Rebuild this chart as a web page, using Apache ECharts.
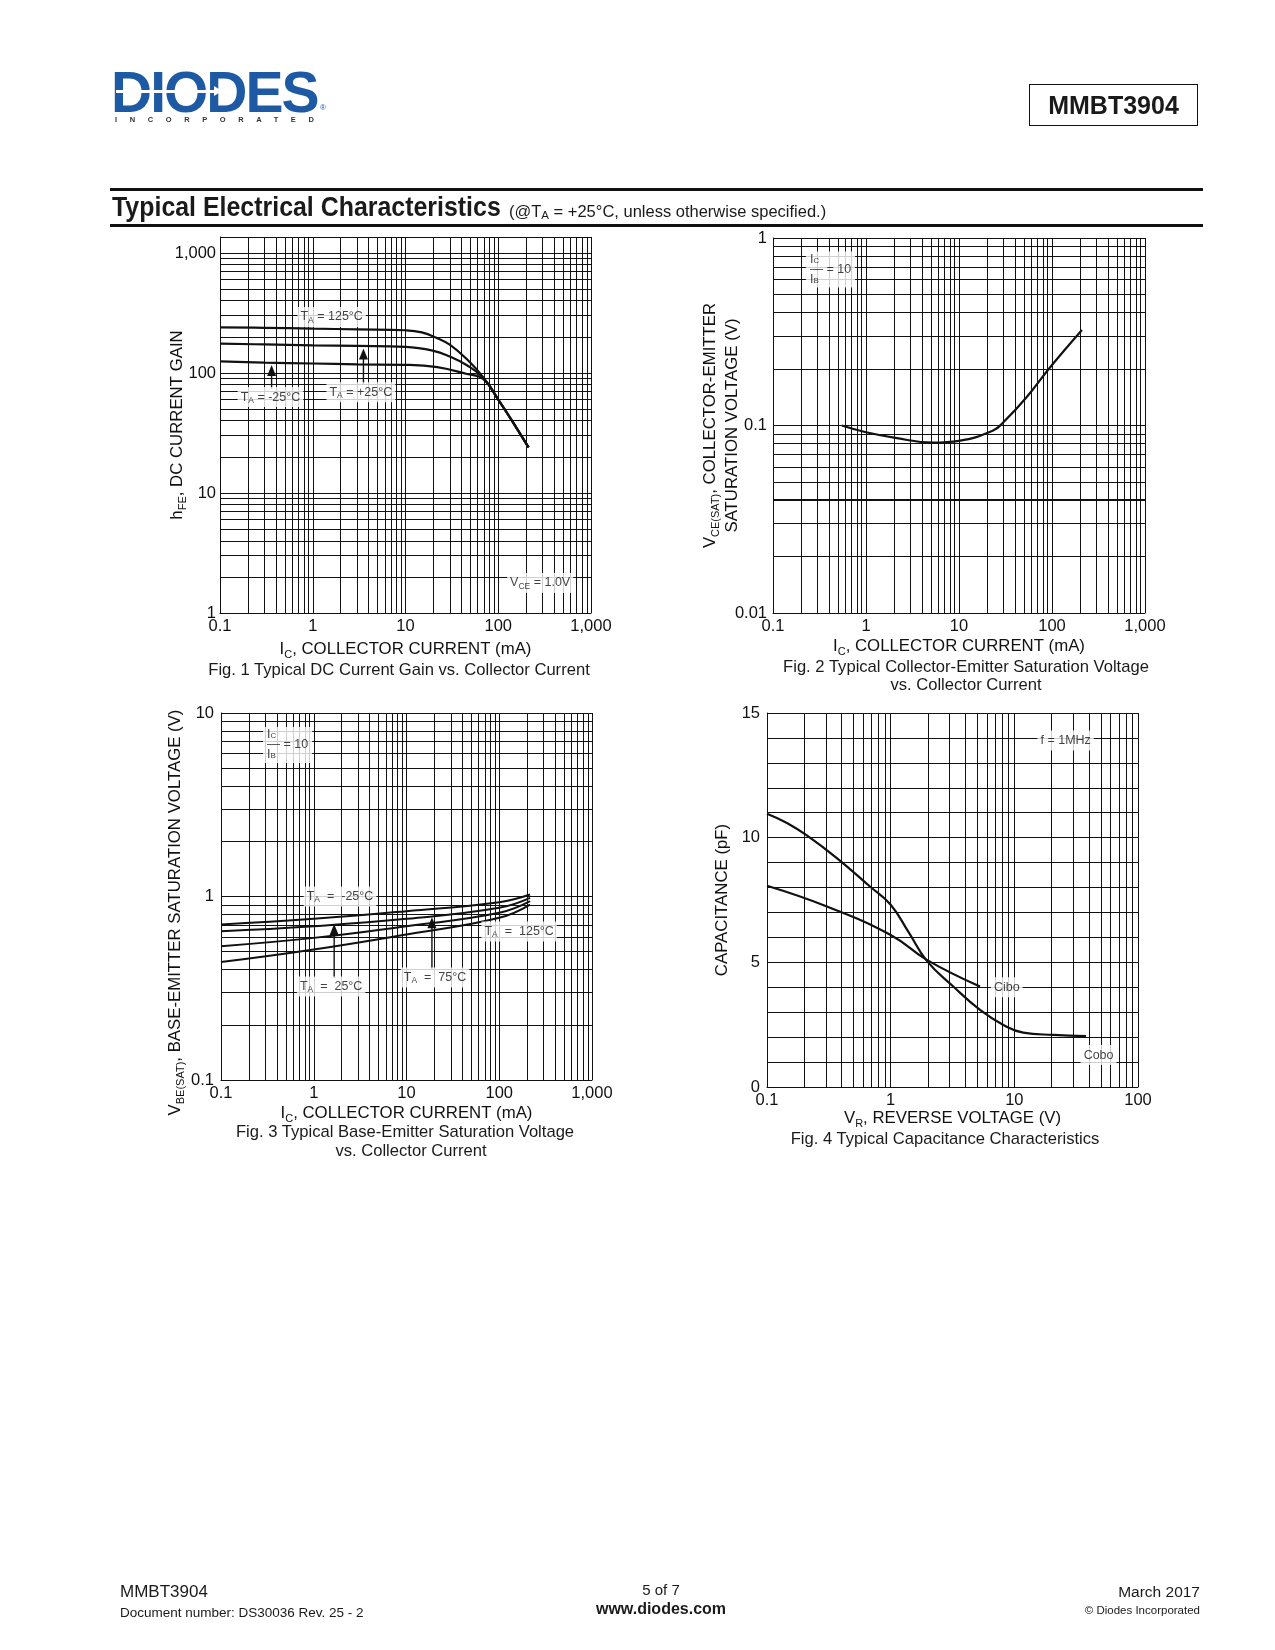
<!DOCTYPE html>
<html lang="en"><head><meta charset="utf-8"><title>MMBT3904 Typical Electrical Characteristics</title>
<script src="https://cdn.jsdelivr.net/npm/echarts@6.0.0/dist/echarts.min.js"></script>
<style>
html,body{margin:0;padding:0;background:#fff;}
#page{position:relative;width:1275px;height:1650px;overflow:hidden;font-family:'Liberation Sans',Arial,Helvetica,sans-serif;color:#1a1a1a;}
#chart{position:absolute;left:0;top:0;width:1275px;height:1650px;}
.t{position:absolute;white-space:nowrap;line-height:1;z-index:2;}
.c{transform:translate(-50%,-50%);}
.l{transform:translateY(-50%);}
.r{transform:translate(-100%,-50%);}
</style></head>
<body><div id="page">
<div id="chart"></div>

<!-- header -->
<div class="t" style="left:111px;top:64px;font:bold 57px/57px 'Liberation Sans',Arial,sans-serif;color:#1d5aa3;letter-spacing:-2px;">DIODES</div>
<div class="t" style="left:116px;top:90px;width:100px;height:3px;background:#fff;"></div>
<div class="t" style="left:214px;top:86px;width:0;height:0;border-top:5.5px solid transparent;border-bottom:5.5px solid transparent;border-left:8px solid #fff;"></div>
<div class="t" style="left:115px;top:116px;font:bold 7.5px/8px 'Liberation Sans',Arial,sans-serif;color:#333;letter-spacing:12.6px;">INCORPORATED</div>
<div class="t" style="left:320px;top:104px;font:8px/8px 'Liberation Sans',Arial,sans-serif;color:#1d5aa3;">®</div>
<div class="t" style="left:1029px;top:84px;width:169px;height:42px;box-sizing:border-box;border:1.3px solid #111;text-align:center;font:bold 25px/40px 'Liberation Sans',Arial,sans-serif;">MMBT3904</div>

<div class="t" style="left:110px;top:187.5px;width:1093px;height:3.5px;background:#111;"></div>
<div class="t" style="left:112px;top:193px;font:bold 28px/28px 'Liberation Sans',Arial,sans-serif;transform:scaleX(0.89);transform-origin:left center;">Typical Electrical Characteristics</div>
<div class="t" style="left:509px;top:203px;font:16.5px/16px 'Liberation Sans',Arial,sans-serif;">(@T<span style="font-size:11.5px;position:relative;top:2px;">A</span> = +25°C, unless otherwise specified.)</div>
<div class="t" style="left:110px;top:224px;width:1093px;height:2.5px;background:#111;"></div>

<!-- captions -->
<div class="t c" style="left:399px;top:670px;font-size:16.6px;">Fig. 1 Typical DC Current Gain vs. Collector Current</div>
<div class="t c" style="left:966px;top:667px;font-size:16.6px;">Fig. 2 Typical Collector-Emitter Saturation Voltage</div>
<div class="t c" style="left:966px;top:685px;font-size:16.6px;">vs. Collector Current</div>
<div class="t c" style="left:405px;top:1132px;font-size:16.6px;">Fig. 3 Typical Base-Emitter Saturation Voltage</div>
<div class="t c" style="left:411px;top:1151px;font-size:16.6px;">vs. Collector Current</div>
<div class="t c" style="left:945px;top:1139px;font-size:16.6px;">Fig. 4 Typical Capacitance Characteristics</div>

<!-- footer -->
<div class="t l" style="left:120px;top:1591px;font-size:17px;">MMBT3904</div>
<div class="t l" style="left:120px;top:1613px;font-size:13.5px;">Document number: DS30036 Rev. 25 - 2</div>
<div class="t c" style="left:661px;top:1589px;font-size:15px;">5 of 7</div>
<div class="t c" style="left:661px;top:1609px;font-size:16px;font-weight:bold;">www.diodes.com</div>
<div class="t r" style="left:1200px;top:1592px;font-size:15.5px;">March 2017</div>
<div class="t r" style="left:1200px;top:1611px;font-size:11.5px;">© Diodes Incorporated</div>
</div>

<script>
// ---------------- data ----------------
// Fig. 1  hFE vs IC (mA)
const fig1Current125 = [0.1, 0.3, 1, 3, 10, 15, 22, 30, 46, 69, 100, 150, 212];
const fig1Gain125    = [240, 238, 234, 231, 227, 218, 195, 172, 130, 92, 60, 37, 24];
const fig1Current25  = [0.1, 0.3, 1, 3, 10, 20, 30, 46, 69, 100, 150, 212];
const fig1Gain25     = [176, 173, 170, 168, 165, 153, 137, 116, 91, 60, 37, 24];
const fig1CurrentM25 = [0.1, 0.3, 1, 3, 10, 22, 46, 69, 100, 150, 212];
const fig1GainM25    = [125, 122, 120, 118, 117, 112, 98, 89, 60, 37, 24];

// Fig. 2  VCE(SAT) vs IC (mA)
const fig2Current = [0.55, 1, 2, 5.3, 10, 23, 30, 53, 96, 210];
const fig2Vce     = [0.1, 0.092, 0.0862, 0.081, 0.0828, 0.0937, 0.104, 0.141, 0.205, 0.323];

// Fig. 3  VBE(SAT) vs IC (mA)
const fig3Current = [0.1, 1, 10, 100, 215];
const fig3VbeM25  = [0.704, 0.756, 0.832, 0.931, 1.025];
const fig3Vbe25   = [0.647, 0.689, 0.756, 0.868, 0.983];
const fig3Vbe75   = [0.536, 0.595, 0.689, 0.815, 0.943];
const fig3Vbe125  = [0.439, 0.514, 0.621, 0.766, 0.904];

// Fig. 4  capacitance (pF) vs VR (V)
const fig4VoltCobo = [0.1, 0.145, 0.21, 0.367, 0.68, 1, 1.4, 1.96, 3.21, 5.28, 8.15, 11.8, 20.7, 38];
const fig4Cobo     = [10.96, 10.59, 10.09, 9.18, 8.04, 7.31, 6.2, 5.06, 4.03, 3.09, 2.49, 2.18, 2.09, 2.04];
const fig4VoltCibo = [0.1, 0.305, 1, 1.96, 5.28];
const fig4Cibo     = [8.07, 7.24, 6.1, 5.1, 4.03];

// annotation anchors (data coordinates)
const fig1Notes = [
  {x: 1.6, y: 293, text: '{t|T}{ts|A}{t| = 125°C}'},
  {x: 0.35, y: 63, text: '{t|T}{ts|A}{t| = -25°C}'},
  {x: 3.3, y: 69, text: '{t|T}{ts|A}{t| = +25°C}'},
  {x: 283, y: 1.78, text: '{t|V}{ts|CE}{t| = 1.0V}'}
];
const fig1Arrows = [{x: 0.36, from: 73.5, to: 105}, {x: 3.52, from: 80.5, to: 144}];
const fig2Fraction = {x: 0.226, y: 0.68};
const fig3Fraction = {x: 0.284, y: 6.7};
const fig3Notes = [
  {x: 1.92, y: 1.0, text: '{t|T}{ts|A}{t|  =  -25°C}'},
  {x: 164, y: 0.645, text: '{t|T}{ts|A}{t|  =  125°C}'},
  {x: 1.54, y: 0.323, text: '{t|T}{ts|A}{t|  =  25°C}'},
  {x: 20.3, y: 0.362, text: '{t|T}{ts|A}{t|  =  75°C}'}
];
const fig3Arrows = [{x: 1.66, from: 0.36, to: 0.66}, {x: 18.8, from: 0.40, to: 0.72}];
const fig4Notes = [
  {x: 26, y: 13.9, text: '{t|f = 1MHz}'},
  {x: 8.7, y: 4.0, text: '{t|Cibo}'},
  {x: 48, y: 1.28, text: '{t|Cobo}'}
];

// ---------------- helpers ----------------
const FONT = "'Liberation Sans', Arial, Helvetica, sans-serif";
const INK = '#111';
const FIG1_YMAX = 1359; // frame top of Fig. 1 (the 1,000 line sits just below it)

function decadeLines(lo, hi) {
  const out = [];
  for (let d = lo; d < hi * 0.999; d *= 10) {
    for (let m = 1; m <= 9; m++) out.push(+(m * d).toPrecision(6));
  }
  out.push(hi);
  return out;
}
function range(a, b, s) { const o = []; for (let v = a; v <= b + 1e-9; v += s) o.push(v); return o; }
function fmt(v) {
  const n = +(+v).toPrecision(4);
  return n >= 1000 ? '1,000' : String(n);
}
const RICH = {
  n:  {fontSize: 16.8, fontFamily: FONT, color: INK, lineHeight: 22, verticalAlign: 'middle'},
  s:  {fontSize: 11, fontFamily: FONT, color: INK, lineHeight: 12, verticalAlign: 'bottom'},
  t:  {fontSize: 12.5, fontFamily: FONT, color: INK, lineHeight: 16, verticalAlign: 'middle'},
  ts: {fontSize: 8.5, fontFamily: FONT, color: INK, lineHeight: 9, verticalAlign: 'bottom'},
  f:  {fontSize: 12.5, fontFamily: FONT, color: INK, lineHeight: 10, verticalAlign: 'middle'},
  fs: {fontSize: 8, fontFamily: FONT, color: INK, lineHeight: 6, verticalAlign: 'bottom'},
  bar:{fontSize: 13, fontFamily: FONT, color: INK, lineHeight: 10, verticalAlign: 'middle'}
};

function xLog(gi, min, max, name, gap) {
  return {type: 'log', logBase: 10, gridIndex: gi, min, max,
    name, nameLocation: 'middle', nameGap: gap, nameMoveOverlap: false,
    nameTextStyle: {rich: RICH},
    axisLine: {show: true, onZero: false, lineStyle: {color: INK, width: 1}},
    axisTick: {show: false}, splitLine: {show: false},
    axisLabel: {color: INK, fontSize: 16.5, fontFamily: FONT, margin: 5, formatter: fmt}};
}
function yAxisDef(type, gi, min, max, name, gap, margin, extra) {
  return Object.assign({type, gridIndex: gi, min, max,
    name, nameLocation: 'middle', nameGap: gap, nameRotate: 90, nameMoveOverlap: false,
    nameTextStyle: {rich: RICH, align: 'center'},
    axisLine: {show: true, onZero: false, lineStyle: {color: INK, width: 1}},
    axisTick: {show: false}, splitLine: {show: false},
    axisLabel: {color: INK, fontSize: 16.5, fontFamily: FONT, margin, formatter: fmt}}, extra || {});
}
function gridSeries(gi, xs, ys, anchor, extraLines) {
  return {type: 'line', xAxisIndex: gi, yAxisIndex: gi, z: 1, silent: true, animation: false,
    symbol: 'none', data: [anchor], lineStyle: {width: 0},
    markLine: {silent: true, animation: false, symbol: ['none', 'none'], label: {show: false},
      lineStyle: {color: INK, width: 1, type: 'solid'},
      emphasis: {disabled: true},
      data: xs.map(v => ({xAxis: v})).concat(ys.map(v => ({yAxis: v}))).concat(extraLines || [])}};
}
function curve(gi, xs, ys, w) {
  return {type: 'line', xAxisIndex: gi, yAxisIndex: gi, z: 3, silent: true, animation: false,
    symbol: 'none', smooth: 0.45,
    lineStyle: {color: INK, width: w || 2},
    data: xs.map((x, i) => [x, ys[i]])};
}
function arrow(gi, a) {
  return {type: 'line', xAxisIndex: gi, yAxisIndex: gi, z: 4, silent: true, animation: false,
    symbol: 'none', lineStyle: {color: INK, width: 1.4}, itemStyle: {color: INK},
    data: [{value: [a.x, a.from], symbol: 'none'},
           {value: [a.x, a.to], symbol: 'triangle', symbolSize: [9, 11], itemStyle: {color: INK}}]};
}
function notes(gi, items) {
  return {type: 'scatter', xAxisIndex: gi, yAxisIndex: gi, z: 6, silent: true, animation: false,
    symbol: 'circle', symbolSize: 1, itemStyle: {color: 'rgba(0,0,0,0)'},
    label: {show: true, position: 'inside', backgroundColor: '#fff', padding: [2, 3], rich: RICH},
    data: items.map(n => ({value: [n.x, n.y], label: {formatter: n.text}}))};
}
function fraction(gi, p) {
  return {type: 'scatter', xAxisIndex: gi, yAxisIndex: gi, z: 6, silent: true, animation: false,
    symbol: 'circle', symbolSize: 1, itemStyle: {color: 'rgba(0,0,0,0)'},
    label: {show: true, position: 'inside', align: 'left', backgroundColor: '#fff', padding: [3, 4], rich: RICH,
      formatter: '{f|I}{fs|C}\n{bar|—}{f| = 10}\n{f|I}{fs|B}'},
    data: [[p.x, p.y]]};
}

const icX = decadeLines(0.1, 1000);

const option = {
  animation: false,
  backgroundColor: 'transparent',
  textStyle: {fontFamily: FONT, color: INK},
  grid: [
    {left: 220, top: 237, width: 371, height: 376},
    {left: 773, top: 238, width: 372, height: 375},
    {left: 221, top: 713, width: 371, height: 367},
    {left: 767, top: 713, width: 371, height: 374}
  ],
  xAxis: [
    xLog(0, 0.1, 1000, '{n|I}{s|C}{n|, COLLECTOR CURRENT (mA)}', 25),
    xLog(1, 0.1, 1000, '{n|I}{s|C}{n|, COLLECTOR CURRENT (mA)}', 22),
    xLog(2, 0.1, 1000, '{n|I}{s|C}{n|, COLLECTOR CURRENT (mA)}', 22),
    xLog(3, 0.1, 100, '{n|V}{s|R}{n|, REVERSE VOLTAGE (V)}', 20)
  ],
  yAxis: [
    yAxisDef('log', 0, 1, FIG1_YMAX, '{n|h}{s|FE}{n|, DC CURRENT GAIN}', 32, 4,
      {logBase: 10, axisLabel: {color: INK, fontSize: 16.5, fontFamily: FONT, margin: 4, formatter: fmt, showMaxLabel: false}}),
    yAxisDef('log', 1, 0.01, 1, '{n|V}{s|CE(SAT)}{n|, COLLECTOR-EMITTER}\n{n|SATURATION VOLTAGE (V)}', 30, 6, {logBase: 10}),
    yAxisDef('log', 2, 0.1, 10, '{n|V}{s|BE(SAT)}{n|, BASE-EMITTER SATURATION VOLTAGE (V)}', 35, 7,
      {logBase: 10, nameTextStyle: {rich: RICH, align: 'center', padding: [0, 32, 0, 0]}}),
    yAxisDef('value', 3, 0, 15, '{n|CAPACITANCE (pF)}', 34, 7, {interval: 5})
  ],
  series: [
    gridSeries(0, icX, decadeLines(1, 1000), [0.1, 1], [{yAxis: FIG1_YMAX}]),
    gridSeries(1, icX, decadeLines(0.01, 1), [0.1, 0.01], [{yAxis: 0.04, lineStyle: {width: 2.2}}]),
    gridSeries(2, icX, decadeLines(0.1, 10), [0.1, 0.1]),
    gridSeries(3, decadeLines(0.1, 100), range(0, 15, 1), [0.1, 0]),

    curve(0, fig1Current125, fig1Gain125, 2.2),
    curve(0, fig1Current25, fig1Gain25, 2.2),
    curve(0, fig1CurrentM25, fig1GainM25, 2.2),
    notes(0, fig1Notes),
    arrow(0, fig1Arrows[0]),
    arrow(0, fig1Arrows[1]),

    curve(1, fig2Current, fig2Vce, 2.2),
    fraction(1, fig2Fraction),

    curve(2, fig3Current, fig3VbeM25, 2),
    curve(2, fig3Current, fig3Vbe25, 2),
    curve(2, fig3Current, fig3Vbe75, 2),
    curve(2, fig3Current, fig3Vbe125, 2),
    fraction(2, fig3Fraction),
    notes(2, fig3Notes),
    arrow(2, fig3Arrows[0]),
    arrow(2, fig3Arrows[1]),

    curve(3, fig4VoltCobo, fig4Cobo, 2.2),
    curve(3, fig4VoltCibo, fig4Cibo, 2.2),
    notes(3, fig4Notes)
  ]
};

const chart = echarts.init(document.getElementById('chart'), null, {renderer: 'canvas'});
chart.setOption(option);
</script>
</body></html>
